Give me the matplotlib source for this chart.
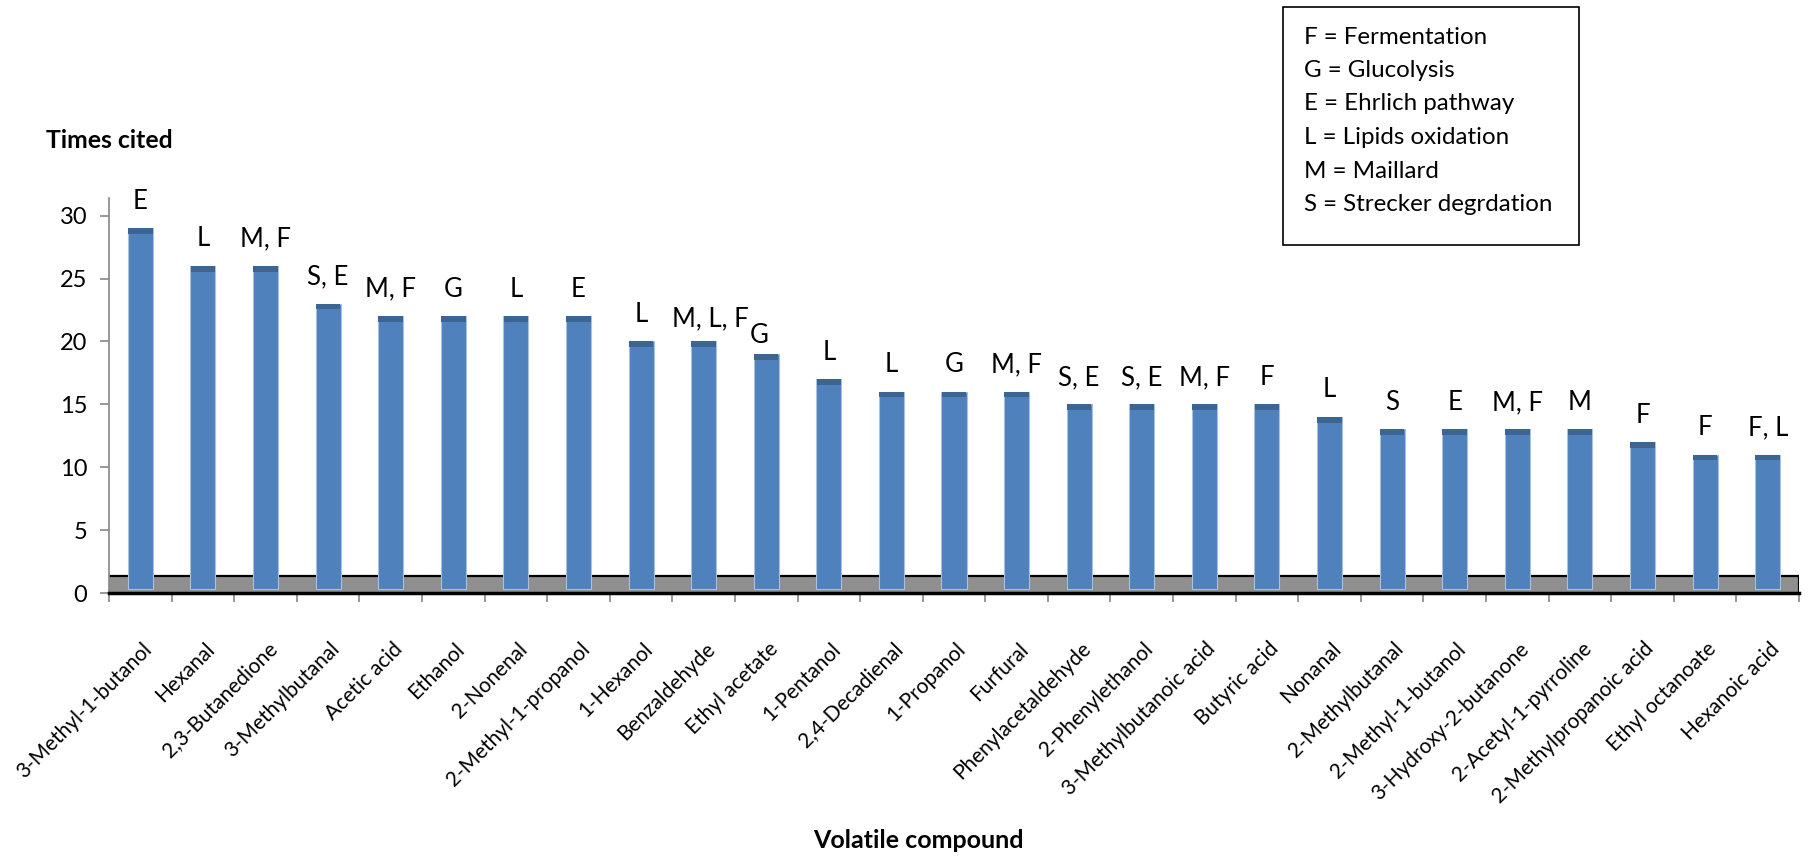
import matplotlib
matplotlib.use("Agg")
import matplotlib.pyplot as plt
from matplotlib.patches import Rectangle
import numpy as np

plt.rcParams['font.family'] = ['Lato', 'DejaVu Sans']

compounds = [
    "3-Methyl-1-butanol", "Hexanal", "2,3-Butanedione", "3-Methylbutanal",
    "Acetic acid", "Ethanol", "2-Nonenal", "2-Methyl-1-propanol", "1-Hexanol",
    "Benzaldehyde", "Ethyl acetate", "1-Pentanol", "2,4-Decadienal",
    "1-Propanol", "Furfural", "Phenylacetaldehyde", "2-Phenylethanol",
    "3-Methylbutanoic acid", "Butyric acid", "Nonanal", "2-Methylbutanal",
    "2-Methyl-1-butanol", "3-Hydroxy-2-butanone", "2-Acetyl-1-pyrroline",
    "2-Methylpropanoic acid", "Ethyl octanoate", "Hexanoic acid",
]
times_cited = [29, 26, 26, 23, 22, 22, 22, 22, 20, 20, 19, 17, 16, 16, 16,
               15, 15, 15, 15, 14, 13, 13, 13, 13, 12, 11, 11]
pathways = ["E", "L", "M, F", "S, E", "M, F", "G", "L", "E", "L", "M, L, F",
            "G", "L", "L", "G", "M, F", "S, E", "S, E", "M, F", "F", "L", "S",
            "E", "M, F", "M", "F", "F", "F, L"]
legend_lines = ["F = Fermentation", "G = Glucolysis", "E = Ehrlich pathway",
                "L = Lipids oxidation", "M = Maillard",
                "S = Strecker degrdation"]
y_ticks = [0, 5, 10, 15, 20, 25, 30]

W, H = 1811, 856
fig = plt.figure(figsize=(W / 100, H / 100), dpi=100)

# axes box in pixel units
ax_l, ax_r, ax_b, ax_t = 109, 1799, 593, 198
ax = fig.add_axes([ax_l / W, (H - ax_b) / H, (ax_r - ax_l) / W, (ax_b - ax_t) / H])

n = len(compounds)
x = np.arange(n)
ax.set_xlim(-0.5, n - 0.5)
ax.set_ylim(0, 31.4)

# grey floor of the 3-D chart
floor_h = 1.33
ax.add_patch(Rectangle((-0.5, 0), n, floor_h, facecolor="#8f8f8f",
                       edgecolor="none", zorder=1))
ax.plot([-0.5, n - 0.5], [floor_h, floor_h], color="black", lw=1.6, zorder=1.5)
ax.plot([n - 0.5, n - 0.5], [0, floor_h], color="black", lw=1.6, zorder=1.5)

# bars: front face plus darker top face
base = 0.35
cap = 0.45
vals = np.array(times_cited, dtype=float)
ax.bar(x, vals - base, bottom=base, width=0.4, color="#4f81bd",
       edgecolor="#a9c0de", linewidth=0.8, zorder=2)
ax.bar(x, np.full(n, cap), bottom=vals - cap, width=0.4 - 0.008,
       color="#3d6593", edgecolor="none", zorder=3)

# pathway labels above bars
nudge = {"Benzaldehyde": (5, -3), "Ethyl acetate": (-5, -6)}
for xi, v, lab, name in zip(x, vals, pathways, compounds):
    dx, dy = nudge.get(name, (0, 0))
    ax.annotate(lab, (xi, v), xytext=(dx, 14 + dy), textcoords="offset points",
                ha="center", va="baseline", fontsize=18.5, color="black",
                zorder=5)

# axes styling
for s in ("top", "right"):
    ax.spines[s].set_visible(False)
ax.spines["left"].set_color("#868686")
ax.spines["left"].set_linewidth(1.2)
ax.spines["bottom"].set_color("black")
ax.spines["bottom"].set_linewidth(2.5)
ax.spines["bottom"].set_zorder(4)

ax.set_yticks(y_ticks)
ax.set_yticklabels([str(t) for t in y_ticks], fontsize=17)
ax.tick_params(axis="y", length=6.5, width=1.2, color="#868686", pad=9)

ax.set_xticks(x)
ax.set_xticklabels([])
ax.tick_params(axis="x", which="major", length=0)
ax.set_xticks(np.arange(n + 1) - 0.5, minor=True)
ax.tick_params(axis="x", which="minor", length=6.5, width=1.2, color="#868686")

for xi, name in zip(x, compounds):
    ax.annotate(name, (xi, 0), xytext=(6, -38), textcoords="offset points",
                rotation=45, rotation_mode="anchor", ha="right", va="center",
                fontsize=15, color="black", annotation_clip=False)

# axis titles
fig.text(46 / W, 1 - 140 / H, "Times cited", fontsize=17.8, fontweight="bold",
         ha="left", va="center")
fig.text(918 / W, 1 - 840 / H, "Volatile compound", fontsize=18,
         fontweight="bold", ha="center", va="center")

# key box
bx0, bx1, by0, by1 = 1283, 1579, 7, 245
fig.patches.append(Rectangle((bx0 / W, 1 - by1 / H), (bx1 - bx0) / W,
                             (by1 - by0) / H, transform=fig.transFigure,
                             facecolor="white", edgecolor="black", lw=1.2))
for i, line in enumerate(legend_lines):
    fig.text(1304 / W, 1 - (37 + 33.5 * i) / H, line, fontsize=17.4,
             ha="left", va="center")

fig.savefig("out.png", dpi=100)
